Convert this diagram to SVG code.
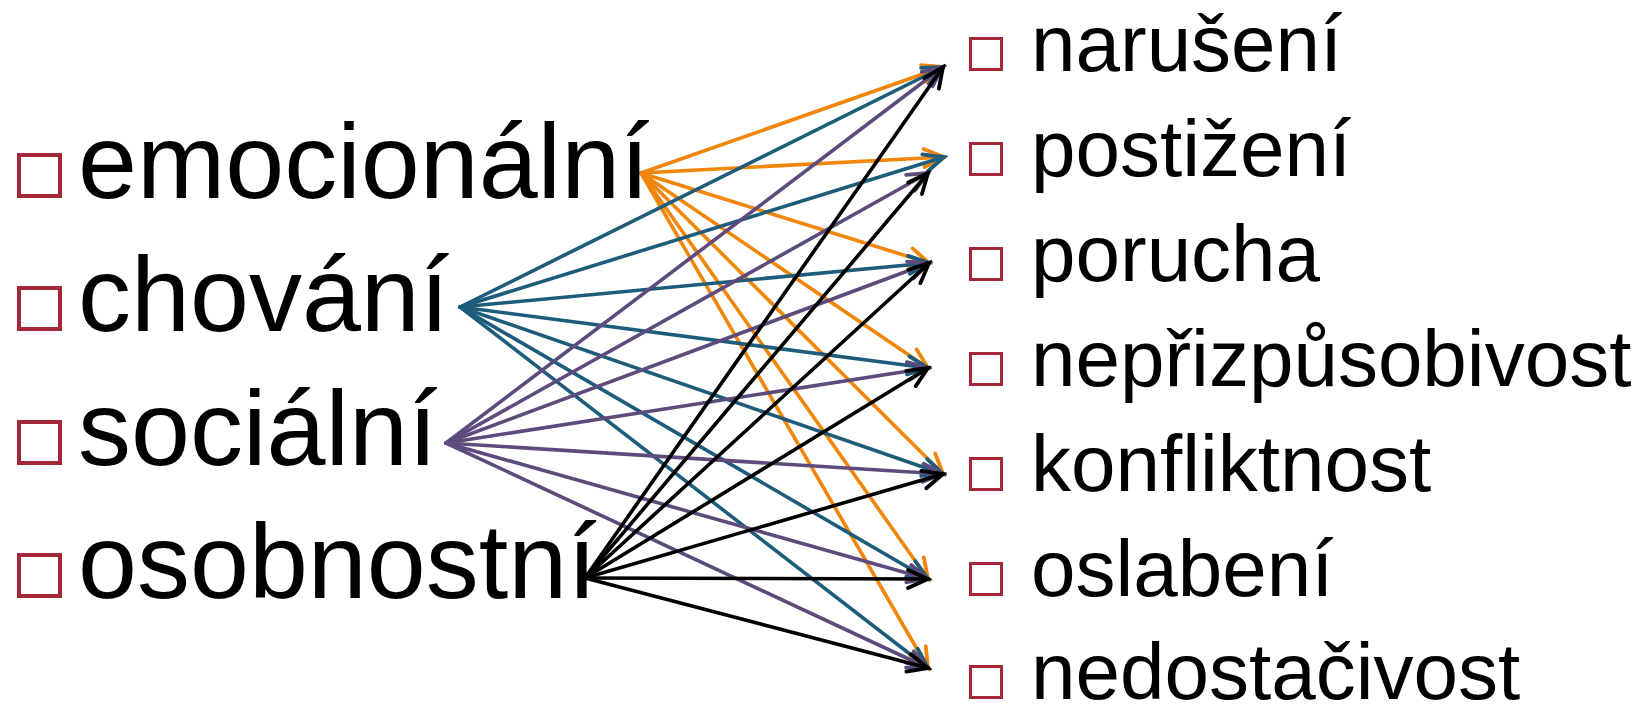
<svg xmlns="http://www.w3.org/2000/svg" width="1639" height="705" viewBox="0 0 1639 705">
<style>
.bg{fill:#ffffff}
.box{fill:none;stroke:#A4283A}
.lbox{stroke-width:4}
.rbox{stroke-width:3}
.lt{font-family:"Liberation Sans",Arial,sans-serif;font-size:106px;fill:#000}
.rt{font-family:"Liberation Sans",Arial,sans-serif;font-size:80px;fill:#000}
.e{fill:none;stroke-width:3.6;stroke-linecap:round}
.o{stroke:#F0860A;marker-end:url(#mo)}
.b{stroke:#1E5C7C;marker-end:url(#mb)}
.p{stroke:#5E4A7C;marker-end:url(#mp)}
.k{stroke:#000000;marker-end:url(#mk)}
</style>
<defs>
<marker id="mo" markerUnits="userSpaceOnUse" viewBox="-24 -12 28 24" refX="0" refY="0" markerWidth="28" markerHeight="24" orient="auto"><path d="M-20,-9 L0,0 L-20,9" fill="none" stroke="#F0860A" stroke-width="3.8" stroke-linecap="round"/></marker>
<marker id="mb" markerUnits="userSpaceOnUse" viewBox="-24 -12 28 24" refX="0" refY="0" markerWidth="28" markerHeight="24" orient="auto"><path d="M-20,-9 L0,0 L-20,9" fill="none" stroke="#1E5C7C" stroke-width="3.8" stroke-linecap="round"/></marker>
<marker id="mp" markerUnits="userSpaceOnUse" viewBox="-24 -12 28 24" refX="0" refY="0" markerWidth="28" markerHeight="24" orient="auto"><path d="M-20,-9 L0,0 L-20,9" fill="none" stroke="#5E4A7C" stroke-width="3.8" stroke-linecap="round"/></marker>
<marker id="mk" markerUnits="userSpaceOnUse" viewBox="-24 -12 28 24" refX="0" refY="0" markerWidth="28" markerHeight="24" orient="auto"><path d="M-20,-9 L0,0 L-20,9" fill="none" stroke="#000000" stroke-width="3.8" stroke-linecap="round"/></marker>
</defs>
<rect class="bg" x="0" y="0" width="1639" height="705"/>

<g id="connectors">
<g id="from-emocionalni">
<line class="e o" x1="641" y1="173" x2="943" y2="67"/>
<line class="e o" x1="641" y1="173" x2="944" y2="157"/>
<line class="e o" x1="641" y1="173" x2="929" y2="263"/>
<line class="e o" x1="641" y1="173" x2="928" y2="368"/>
<line class="e o" x1="641" y1="173" x2="943" y2="474"/>
<line class="e o" x1="641" y1="173" x2="928" y2="579"/>
<line class="e o" x1="641" y1="173" x2="928" y2="668"/>
</g>
<g id="from-chovani">
<line class="e b" x1="460" y1="307" x2="943" y2="67"/>
<line class="e b" x1="460" y1="307" x2="944" y2="157"/>
<line class="e b" x1="460" y1="307" x2="929" y2="263"/>
<line class="e b" x1="460" y1="307" x2="928" y2="368"/>
<line class="e b" x1="460" y1="307" x2="943" y2="474"/>
<line class="e b" x1="460" y1="307" x2="928" y2="579"/>
<line class="e b" x1="460" y1="307" x2="928" y2="668"/>
</g>
<g id="from-socialni">
<line class="e p" x1="446" y1="443" x2="943" y2="67"/>
<line class="e p" x1="446" y1="443" x2="928" y2="173"/>
<line class="e p" x1="446" y1="443" x2="929" y2="263"/>
<line class="e p" x1="446" y1="443" x2="928" y2="368"/>
<line class="e p" x1="446" y1="443" x2="943" y2="474"/>
<line class="e p" x1="446" y1="443" x2="928" y2="579"/>
<line class="e p" x1="446" y1="443" x2="928" y2="668"/>
</g>
<g id="from-osobnostni">
<line class="e k" x1="585" y1="578" x2="943" y2="67"/>
<line class="e k" x1="585" y1="578" x2="928" y2="173"/>
<line class="e k" x1="585" y1="578" x2="929" y2="263"/>
<line class="e k" x1="585" y1="578" x2="928" y2="368"/>
<line class="e k" x1="585" y1="578" x2="943" y2="474"/>
<line class="e k" x1="585" y1="578" x2="928" y2="579"/>
<line class="e k" x1="585" y1="578" x2="928" y2="668"/>
</g>
</g>

<g id="emocionalni"><rect class="box lbox" x="19" y="155" width="41" height="41"/><text class="lt" x="78" y="198">emocionální</text></g>
<g id="chovani"><rect class="box lbox" x="19" y="288" width="41" height="41"/><text class="lt" x="78" y="331">chování</text></g>
<g id="socialni"><rect class="box lbox" x="19" y="422" width="41" height="41"/><text class="lt" x="78" y="465">sociální</text></g>
<g id="osobnostni"><rect class="box lbox" x="19" y="555" width="41" height="41"/><text class="lt" x="78" y="598">osobnostní</text></g>

<g id="naruseni"><rect class="box rbox" x="970.5" y="38.5" width="31" height="31"/><text class="rt" x="1031" y="71">narušení</text></g>
<g id="postizeni"><rect class="box rbox" x="970.5" y="143.5" width="31" height="31"/><text class="rt" x="1031" y="176">postižení</text></g>
<g id="porucha"><rect class="box rbox" x="970.5" y="248.5" width="31" height="31"/><text class="rt" x="1031" y="281">porucha</text></g>
<g id="neprizpusobivost"><rect class="box rbox" x="970.5" y="353.5" width="31" height="31"/><text class="rt" x="1031" y="386">nepřizpůsobivost</text></g>
<g id="konfliktnost"><rect class="box rbox" x="970.5" y="458.5" width="31" height="31"/><text class="rt" x="1031" y="491">konfliktnost</text></g>
<g id="oslabeni"><rect class="box rbox" x="970.5" y="563.5" width="31" height="31"/><text class="rt" x="1031" y="596">oslabení</text></g>
<g id="nedostacivost"><rect class="box rbox" x="970.5" y="666.5" width="31" height="31"/><text class="rt" x="1031" y="699">nedostačivost</text></g>
</svg>
